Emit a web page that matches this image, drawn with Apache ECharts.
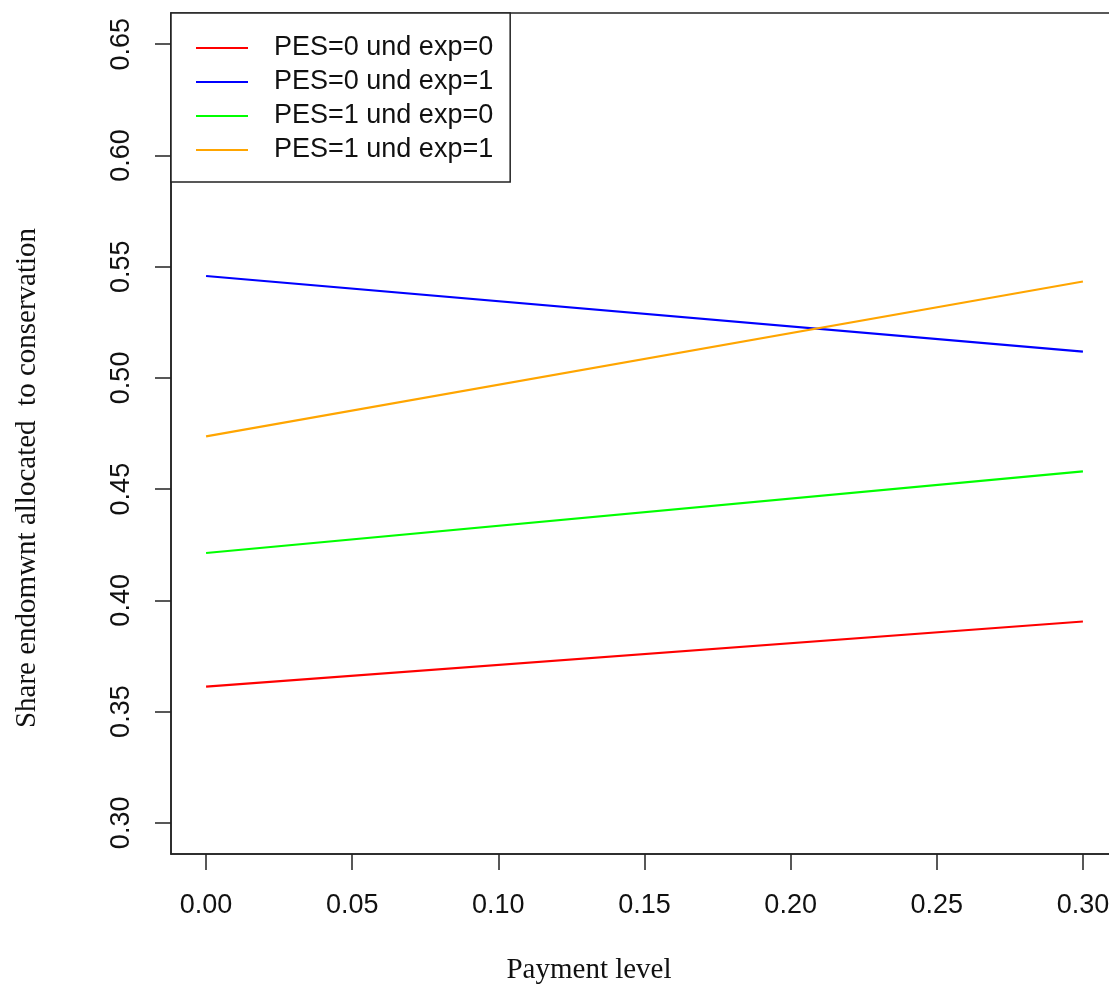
<!DOCTYPE html>
<html>
<head>
<meta charset="utf-8">
<script src="https://cdn.jsdelivr.net/npm/echarts@6/dist/echarts.min.js"></script>
<style>
html,body{margin:0;padding:0;background:#fff;}
#chart{width:1109px;height:985px;}
</style>
</head>
<body>
<div id="chart"></div>
<script>
// Data
const paymentLevels = [0, 0.3];
const seriesNames = ["PES=0 und exp=0", "PES=0 und exp=1", "PES=1 und exp=0", "PES=1 und exp=1"];
const pes0exp0 = [0.3612, 0.3905];
const pes0exp1 = [0.5458, 0.5118];
const pes1exp0 = [0.4213, 0.4580];
const pes1exp1 = [0.4737, 0.5433];
const xTicks = [0, 0.05, 0.10, 0.15, 0.20, 0.25, 0.30];
const yTicks = [0.30, 0.35, 0.40, 0.45, 0.50, 0.55, 0.60, 0.65];
const xTitle = "Payment level";
const yTitle = "Share endomwnt allocated  to conservation";

const colors = ["#ff0000", "#0000ff", "#00ff00", "#ffa500"];
const values = [pes0exp0, pes0exp1, pes1exp0, pes1exp1];

const chart = echarts.init(document.getElementById('chart'), null, {renderer: 'canvas'});
const axisColor = '#222';
const labelFont = 'Liberation Sans, Arial, sans-serif';

chart.setOption({
  animation: false,
  backgroundColor: '#fff',
  grid: {
    left: 171, top: 13, width: 947, height: 841,
    outerBoundsMode: 'none', containLabel: false,
    show: true, borderColor: axisColor, borderWidth: 1.5, backgroundColor: 'transparent'
  },
  xAxis: {
    type: 'value', min: -0.012, max: 0.312,
    splitLine: {show: false},
    axisLine: {show: true, onZero: false, lineStyle: {color: axisColor, width: 1.5}},
    axisTick: {show: true, length: 16, lineStyle: {color: axisColor, width: 1.5}, customValues: xTicks},
    axisLabel: {
      customValues: xTicks, margin: 38, fontSize: 27, fontFamily: labelFont, color: '#111',
      hideOverlap: false, showMaxLabel: true,
      formatter: v => v.toFixed(2)
    }
  },
  yAxis: {
    type: 'value', min: 0.286, max: 0.664,
    splitLine: {show: false},
    axisLine: {show: true, onZero: false, lineStyle: {color: axisColor, width: 1.5}},
    axisTick: {show: true, length: 16, lineStyle: {color: axisColor, width: 1.5}, customValues: yTicks},
    axisLabel: {
      customValues: yTicks, margin: 36, rotate: 90, fontSize: 27, fontFamily: labelFont, color: '#111',
      formatter: v => v.toFixed(2)
    }
  },
  legend: {
    orient: 'vertical', left: 171, top: 13,
    backgroundColor: '#fff', borderColor: axisColor, borderWidth: 1.5,
    padding: [21, 17, 18, 25],
    icon: 'rect',
    itemWidth: 52, itemHeight: 2, itemGap: 6,
    textStyle: {fontSize: 27, fontFamily: labelFont, color: '#111', padding: [0, 0, 0, 21], lineHeight: 28},
    data: seriesNames
  },
  graphic: [
    {type: 'text', x: 589, y: 970, style: {text: xTitle, font: '29px "Liberation Serif", serif', fill: '#111', align: 'center', verticalAlign: 'middle'}},
    {type: 'text', x: 27, y: 478, rotation: Math.PI / 2, style: {text: yTitle, font: '29px "Liberation Serif", serif', fill: '#111', align: 'center', verticalAlign: 'middle'}}
  ],
  series: seriesNames.map((name, i) => ({
    name: name,
    type: 'line',
    symbol: 'none',
    lineStyle: {color: colors[i], width: 2.2},
    itemStyle: {color: colors[i]},
    data: paymentLevels.map((x, j) => [x, values[i][j]])
  }))
});
</script>
</body>
</html>
